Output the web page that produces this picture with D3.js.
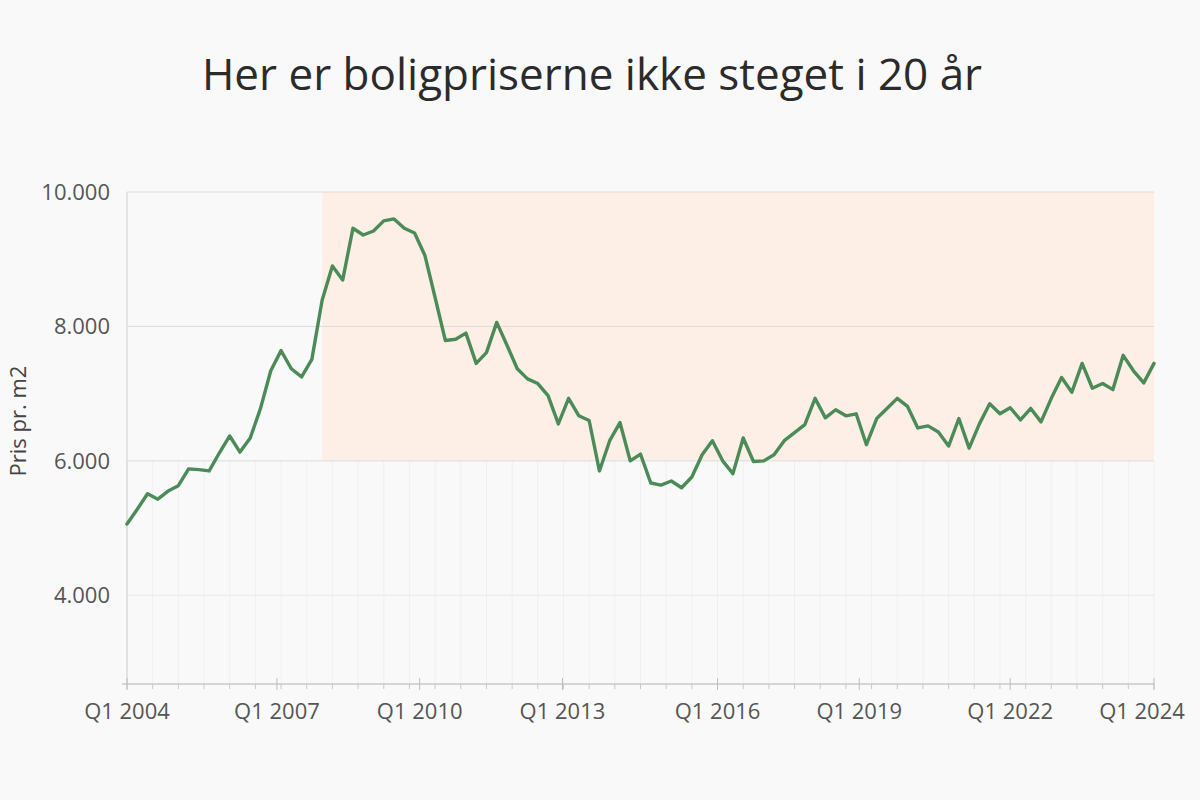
<!DOCTYPE html>
<html lang="da">
  <head>
    <meta charset="utf-8">
    <script src="https://cdn.jsdelivr.net/npm/d3@7"></script>
    <style>
    body { margin: 0; background: #f9f9f9; }
    #chart text { font-family: "Open Sans", sans-serif; }
    </style>
  </head>
  <body>
    <div id="chart"></div>
    <script>
    // price per m2, one value per step of the series
    const prices = [
      5060, 5280, 5510, 5430, 5550, 5630, 5880, 5870, 5850, 6120,
      6370, 6130, 6340, 6780, 7340, 7640, 7370, 7250, 7510, 8390,
      8900, 8690, 9460, 9360, 9420, 9570, 9600, 9460, 9390, 9060,
      8430, 7790, 7810, 7900, 7450, 7610, 8060, 7720, 7370, 7220,
      7150, 6970, 6550, 6930, 6670, 6600, 5850, 6300, 6570, 6000,
      6100, 5670, 5640, 5700, 5600, 5760, 6090, 6300, 6000, 5810,
      6340, 5990, 6000, 6090, 6300, 6420, 6540, 6930, 6640, 6760,
      6670, 6700, 6240, 6630, 6780, 6930, 6810, 6490, 6520, 6430,
      6220, 6630, 6190, 6550, 6850, 6700, 6790, 6610, 6780, 6580,
      6930, 7240, 7020, 7450, 7080, 7150, 7060, 7570, 7340, 7160,
      7450
    ];

    // x-axis labels and where they sit along the series
    const tickLabels = ["Q1 2004", "Q1 2007", "Q1 2010", "Q1 2013", "Q1 2016", "Q1 2019", "Q1 2022", "Q1 2024"];
    const tickIndex = [0, 14.6, 28.5, 42.4, 57.5, 71.3, 86, 100];

    const yTicks = [4000, 6000, 8000, 10000];

    // highlighted band: from this step to the end, between these prices
    const bandFrom = 19;
    const bandValues = [6000, 10000];

    const title = "Her er boligpriserne ikke steget i 20 år";
    const yTitle = "Pris pr. m2";

    const width = 1200, height = 800;
    const svg = d3.select("#chart").append("svg")
      .attr("width", width)
      .attr("height", height);

    svg.append("rect")
      .attr("width", width).attr("height", height)
      .attr("fill", "#f9f9f9");

    const x = d3.scaleLinear()
      .domain([0, prices.length - 1])
      .range([127, 1154]);

    const y = d3.scaleLinear()
      .domain([2680, 10000])
      .range([684, 192]);

    const locale = d3.formatLocale({ decimal: ",", thousands: ".", grouping: [3], currency: ["", " kr"] });
    const fmt = locale.format(",d");

    // vertical grid, only in the lower part
    const minor = d3.range(0, prices.length, 2.5);
    svg.append("g")
      .selectAll("line")
      .data(minor)
      .join("line")
      .attr("x1", d => x(d)).attr("x2", d => x(d))
      .attr("y1", y.range()[0]).attr("y2", y(6000))
      .attr("stroke", "#f0f0f0")
      .attr("stroke-width", 1);

    // highlighted band
    svg.append("rect")
      .attr("x", x(bandFrom))
      .attr("width", x(prices.length - 1) - x(bandFrom))
      .attr("y", y(bandValues[1]))
      .attr("height", y(bandValues[0]) - y(bandValues[1]))
      .attr("fill", "#fdefe6");

    // horizontal grid
    svg.append("g")
      .selectAll("line")
      .data(yTicks)
      .join("line")
      .attr("x1", x(0)).attr("x2", x(prices.length - 1))
      .attr("y1", d => y(d)).attr("y2", d => y(d))
      .attr("stroke", d => d === 4000 ? "#e8e8e8" : "#dcdcdc")
      .attr("stroke-width", 1);

    // y axis line
    svg.append("line")
      .attr("x1", x(0)).attr("x2", x(0))
      .attr("y1", y(10000)).attr("y2", y.range()[0])
      .attr("stroke", "#cfcfcf");

    // y tick labels
    svg.append("g")
      .selectAll("text")
      .data(yTicks)
      .join("text")
      .attr("x", 110)
      .attr("y", d => y(d))
      .attr("dy", "0.35em")
      .attr("text-anchor", "end")
      .attr("fill", "#555")
      .style("font-size", "22px")
      .text(d => fmt(d));

    // x axis
    const xAxis = svg.append("g");
    xAxis.append("line")
      .attr("x1", x(0) - 5).attr("x2", x(prices.length - 1))
      .attr("y1", y.range()[0]).attr("y2", y.range()[0])
      .attr("stroke", "#c8c8c8")
      .attr("stroke-width", 1.5);

    xAxis.selectAll("line.minor")
      .data(minor)
      .join("line")
      .attr("class", "minor")
      .attr("x1", d => x(d)).attr("x2", d => x(d))
      .attr("y1", y.range()[0]).attr("y2", y.range()[0] + 5)
      .attr("stroke", "#c8c8c8");

    xAxis.selectAll("line.major")
      .data(tickIndex)
      .join("line")
      .attr("class", "major")
      .attr("x1", d => x(d)).attr("x2", d => x(d))
      .attr("y1", y.range()[0] - 6).attr("y2", y.range()[0] + 6)
      .attr("stroke", "#bdbdbd");

    xAxis.selectAll("text")
      .data(tickLabels)
      .join("text")
      .attr("x", (d, i) => x(tickIndex[i]) - (i === tickLabels.length - 1 ? 12 : 0))
      .attr("y", 719)
      .attr("text-anchor", "middle")
      .attr("fill", "#555")
      .style("font-size", "22px")
      .text(d => d);

    // the line
    const line = d3.line()
      .x((d, i) => x(i))
      .y(d => y(d));

    svg.append("path")
      .datum(prices)
      .attr("fill", "none")
      .attr("stroke", "#4b8b58")
      .attr("stroke-width", 3.4)
      .attr("stroke-linejoin", "round")
      .attr("stroke-linecap", "round")
      .attr("d", line);

    // y axis title
    svg.append("text")
      .attr("transform", "translate(26, 421) rotate(-90)")
      .attr("text-anchor", "middle")
      .attr("fill", "#444")
      .style("font-size", "22px")
      .text(yTitle);

    // title
    svg.append("text")
      .attr("x", 592)
      .attr("y", 90)
      .attr("text-anchor", "middle")
      .attr("fill", "#2b2b2b")
      .style("font-size", "44px")
      .style("font-weight", 500)
      .text(title);
    </script>
  </body>
</html>
